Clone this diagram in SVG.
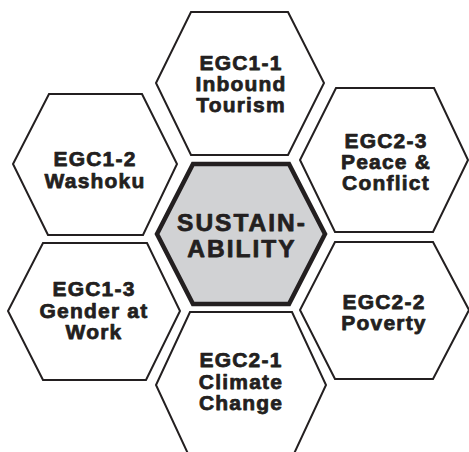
<svg xmlns="http://www.w3.org/2000/svg" width="469" height="452" viewBox="0 0 469 452">
  <style>
    .hex { fill: #ffffff; stroke: #231f20; stroke-width: 2; stroke-linejoin: miter; }
    .core { fill: #d1d2d4; stroke: #231f20; stroke-width: 4.5; stroke-linejoin: miter; }
    .lbl { font-family: "Liberation Sans", Arial, sans-serif; font-weight: bold; font-size: 21px; fill: #231f20; stroke: #231f20; stroke-width: 0.75px; stroke-linejoin: round; text-anchor: middle; letter-spacing: 1.2px; }
    .big { font-size: 24.5px; letter-spacing: 2px; }
  </style>
  <rect width="469" height="452" fill="#ffffff"/>

  <g id="egc1-1">
    <polygon class="hex" points="191,12 288,12 324,83 288,155 191,155 156,83"/>
    <text class="lbl" x="241" y="70">EGC1-1</text>
    <text class="lbl" x="241" y="91">Inbound</text>
    <text class="lbl" x="241" y="112">Tourism</text>
  </g>

  <g id="egc1-2">
    <polygon class="hex" points="49,94 142,94 177,164 143,235 48,235 13,164"/>
    <text class="lbl" x="95" y="166">EGC1-2</text>
    <text class="lbl" x="95" y="188">Washoku</text>
  </g>

  <g id="egc2-3">
    <polygon class="hex" points="336,88 434,88 468,160 433,232 335,232 300,160"/>
    <text class="lbl" x="386" y="148">EGC2-3</text>
    <text class="lbl" x="386" y="169">Peace &amp;</text>
    <text class="lbl" x="386" y="190">Conflict</text>
  </g>

  <g id="egc1-3">
    <polygon class="hex" points="43,243 147,243 180,311 146,380 43,380 8,311"/>
    <text class="lbl" x="94" y="296">EGC1-3</text>
    <text class="lbl" x="94" y="318">Gender at</text>
    <text class="lbl" x="94" y="339">Work</text>
  </g>

  <g id="egc2-2">
    <polygon class="hex" points="335,242 433,242 469,310 433,379 335,379 300,310"/>
    <text class="lbl" x="384" y="309">EGC2-2</text>
    <text class="lbl" x="384" y="330">Poverty</text>
  </g>

  <g id="egc2-1">
    <polygon class="hex" points="190,312 292,312 326,385 292,458 190,458 156,385"/>
    <text class="lbl" x="241" y="367">EGC2-1</text>
    <text class="lbl" x="241" y="389">Climate</text>
    <text class="lbl" x="241" y="410">Change</text>
  </g>

  <g id="sustainability">
    <polygon class="core" points="193,164 289,164 325,234 289,304 193,304 157,234"/>
    <text class="lbl big" x="242" y="231">SUSTAIN-</text>
    <text class="lbl big" x="242" y="257">ABILITY</text>
  </g>

  <g id="connectors"/>
</svg>
